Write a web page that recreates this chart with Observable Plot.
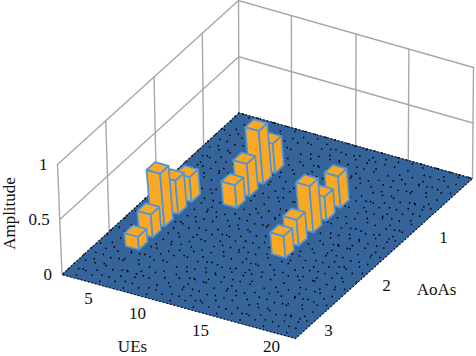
<!DOCTYPE html>
<html>
<head>
<meta charset="utf-8">
<style>html,body{margin:0;padding:0;background:#fff}svg{display:block}</style>
<script src="https://cdn.jsdelivr.net/npm/d3@7"></script>
<script src="https://cdn.jsdelivr.net/npm/@observablehq/plot@0.6"></script>
</head>
<body>
<script>
// chart values
const barUE  = [3.2,3.2,3.2,3.2,3.2, 6.6,6.6,6.6,6.6, 13.4,13.4,13.4,13.4,13.4];
const barAoA = [3.09,2.80,2.55,2.26,1.975, 1.86,1.59,1.30,1.045, 2.51,2.23,1.92,1.64,1.34];
const barAmp = [0.12,0.21,0.49,0.31,0.23, 0.21,0.30,0.49,0.27, 0.20,0.24,0.43,0.22,0.29];
const ueTicks = [5,10,15,20];
const aoaTicks = [1,2,3];
const ampTicks = [0,0.5,1];
const ueGrid = [5,10.5,15];
const ueCells = d3.range(0,20);
const aoaCells = d3.range(0,20);
const dotPeriods = [9.7,11.3,12.9,10.3,13.7,8.9,14.9];
const dotOffsets = [3.1,7.3,1.7,5.9,9.1,4.3,6.7];

// view of the 3D box
const ueDomain = [0.5,20.5], aoaDomain = [0.25,4];
const U = d3.scaleLinear(ueDomain,[0,1]), V = d3.scaleLinear(aoaDomain,[0,1]);
const T=[238.5,112.5], R=[472,178], L=[61.5,274], B=[295,338];
const wallT=[-0.5,-112.5], wallR=[1,-111], wallL=[-4.5,-110];
const barUp=[-9,-108];
const barW=0.058, barD=0.048;
function floor(u,v){
  return [0,1].map(i=>(1-u)*(1-v)*T[i]+u*(1-v)*R[i]+(1-u)*v*L[i]+u*v*B[i]);
}
function wallPt(u,v,z){
  const p=floor(u,v);
  return [0,1].map(i=>p[i]+z*((1-u-v)*wallT[i]+u*wallR[i]+v*wallL[i]));
}
function barPt(u,v,z){
  const p=floor(u,v);
  return [p[0]+z*barUp[0],p[1]+z*barUp[1]];
}
const pts=(id,list)=>list.map(p=>({id,x:p[0],y:p[1]}));

// floor: each cell's two edges are dotted, as zero-height bars would be
const floorPath=pts("f",[floor(0,0),floor(1,0),floor(1,1),floor(0,1),floor(0,0)]);
const cellSets=dotPeriods.map(()=>[]);
for(const i of ueCells)for(const j of aoaCells){
  const a=i/20,b=(i+1)/20,c=j/20,d=(j+1)/20;
  const path=(i+j)%2?[floor(b,c),floor(a,c),floor(a,d)]:[floor(a,d),floor(a,c),floor(b,c)];
  cellSets[(i*3+j*j*2+i*j*5)%dotPeriods.length].push(...pts(`c${i}-${j}`,path));
}
// walls
const wallLines=[];
ampTicks.slice(1).forEach(z=>{
  wallLines.push(...pts(`l${z}`,[wallPt(0,1,z),wallPt(0,0,z),wallPt(1,0,z)]));
});
[[0,1],[0,0],[1,0]].forEach(([u,v],k)=>wallLines.push(...pts(`e${k}`,[wallPt(u,v,0),wallPt(u,v,1)])));
ueGrid.forEach(t=>wallLines.push(...pts(`u${t}`,[wallPt(U(t),0,0),wallPt(U(t),0,1)])));
aoaTicks.forEach(t=>wallLines.push(...pts(`a${t}`,[wallPt(0,V(t),0),wallPt(0,V(t),1)])));
// bars, back to front
const order=d3.range(barUE.length).sort((a,b)=>(U(barUE[a])+V(barAoA[a]))-(U(barUE[b])+V(barAoA[b])));
const faces=[];
order.forEach(k=>{
  const u0=U(barUE[k])-barW/2,u1=u0+barW,v0=V(barAoA[k])-barD/2,v1=v0+barD,z=barAmp[k];
  faces.push(...pts(`b${k}l`,[barPt(u0,v1,0),barPt(u1,v1,0),barPt(u1,v1,z),barPt(u0,v1,z),barPt(u0,v1,0)]));
  faces.push(...pts(`b${k}r`,[barPt(u1,v1,0),barPt(u1,v0,0),barPt(u1,v0,z),barPt(u1,v1,z),barPt(u1,v1,0)]));
  faces.push(...pts(`b${k}t`,[barPt(u0,v0,z),barPt(u1,v0,z),barPt(u1,v1,z),barPt(u0,v1,z),barPt(u0,v0,z)]));
});
// label anchors
const ueLabelX=d3.scaleLinear(ueTicks,[88,137,200,271]), ueLabelY=d3.scaleLinear(ueTicks,[298,313,330,346]);
const aoaLabelX=d3.scaleLinear(aoaTicks,[443,386,328]), aoaLabelY=d3.scaleLinear(aoaTicks,[237,285,330]);
const textOpts={fontFamily:"Liberation Serif",fontSize:17,fill:"#111",lineAnchor:"middle"};

const chart=Plot.plot({
  width:476,height:356,margin:0,
  x:{domain:[0,476],range:[0,476],axis:null},
  y:{domain:[0,356],range:[0,356],axis:null},
  marks:[
    Plot.line(wallLines,{x:"x",y:"y",z:"id",stroke:"#a8a8a8",strokeWidth:1.4}),
    Plot.line(floorPath,{x:"x",y:"y",z:"id",fill:"#35649a",stroke:"#35649a",strokeWidth:1}),
    ...cellSets.map((set,k)=>Plot.line(set,{x:"x",y:"y",z:"id",stroke:"#000",strokeWidth:1.7,strokeLinecap:"round",strokeLinejoin:"round",strokeDasharray:`0 ${dotPeriods[k]}`,strokeDashoffset:dotOffsets[k]})),
    Plot.line(floorPath,{x:"x",y:"y",z:"id",stroke:"#000",strokeWidth:1.5,strokeLinecap:"round",strokeDasharray:"0 3.7"}),
    Plot.line(faces,{x:"x",y:"y",z:"id",fill:"#f9a825",stroke:"#4f94d8",strokeWidth:1.7,strokeLinejoin:"round"}),
    Plot.text(ampTicks,{x:z=>wallPt(0,1,z)[0],y:z=>wallPt(0,1,z)[1],text:d=>String(d),dx:-10,textAnchor:"end",...textOpts}),
    Plot.text(ueTicks,{x:t=>ueLabelX(t),y:t=>ueLabelY(t),text:d=>String(d),...textOpts}),
    Plot.text(aoaTicks,{x:t=>aoaLabelX(t),y:t=>aoaLabelY(t),text:d=>String(d),...textOpts}),
    Plot.text(["UEs"],{x:()=>132,y:()=>346,text:d=>d,...textOpts}),
    Plot.text(["AoAs"],{x:()=>436,y:()=>289,text:d=>d,...textOpts}),
    Plot.text(["Amplitude"],{x:()=>9,y:()=>213,text:d=>d,rotate:-90,...textOpts})
  ]
});
document.body.appendChild(chart);
</script>
</body>
</html>
